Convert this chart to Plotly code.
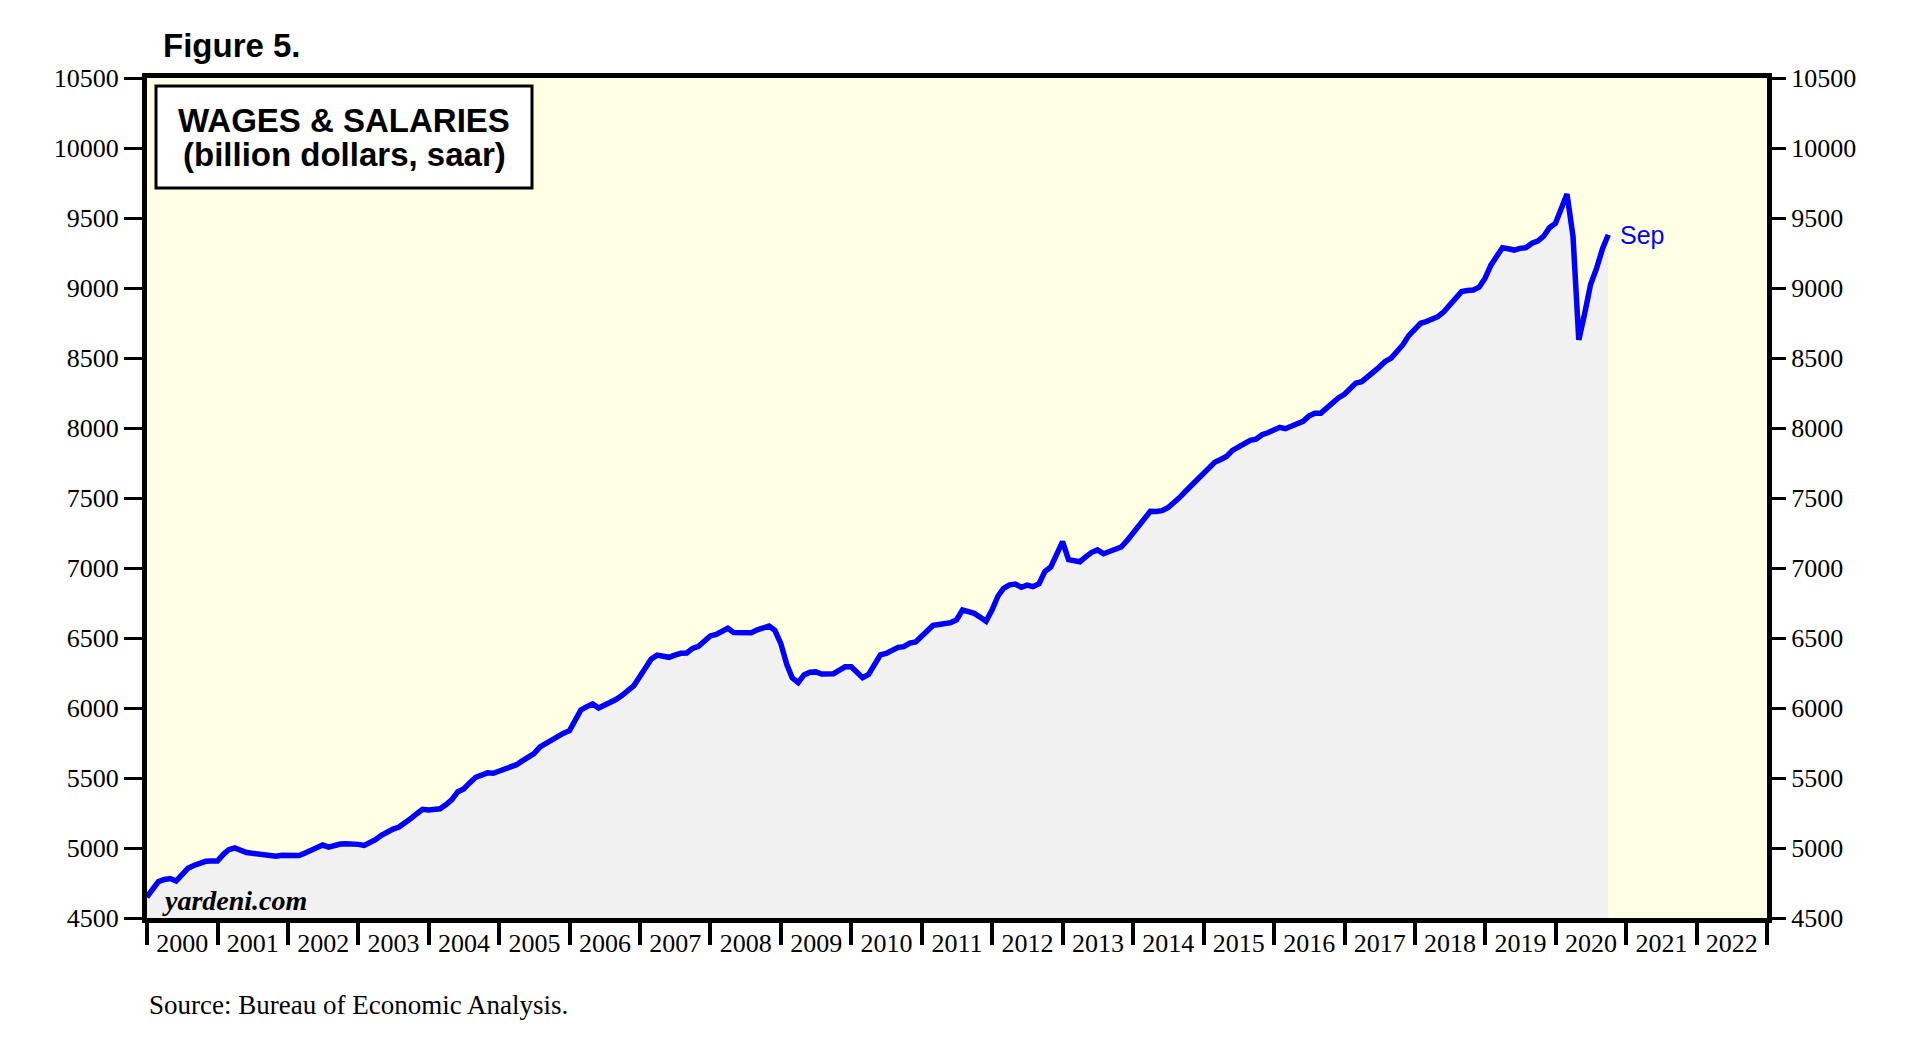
import pandas as pd
import plotly.graph_objects as go

# Monthly wages & salaries (billion dollars, saar), Dec 1999 .. Sep 2020
start_month = "1999-12-31"
wages = [
    4650,
    4712, 4760, 4775, 4782, 4764, 4810, 4855, 4875, 4893, 4905, 4907, 4907,   # 2000
    4955, 4988, 5000, 4980, 4968, 4962, 4955, 4946, 4940, 4942, 4948, 4950,   # 2001
    4946, 4946, 4965, 4983, 5005, 5021, 5006, 5020, 5028, 5031, 5033, 5026,   # 2002
    5018, 5033, 5060, 5090, 5118, 5135, 5150, 5175, 5210, 5245, 5276, 5272,   # 2003
    5272, 5280, 5310, 5345, 5402, 5422, 5465, 5505, 5520, 5537, 5534, 5550,   # 2004
    5568, 5582, 5595, 5622, 5645, 5675, 5722, 5748, 5775, 5800, 5820, 5838,   # 2005
    5920, 5986, 6010, 6029, 6000, 6018, 6043, 6062, 6090, 6122, 6160, 6225,   # 2006
    6290, 6350, 6378, 6370, 6362, 6378, 6391, 6393, 6426, 6440, 6480, 6515,   # 2007
    6525, 6545, 6569, 6540, 6538, 6538, 6538, 6558, 6575, 6586, 6555, 6460,   # 2008
    6310, 6215, 6181, 6236, 6256, 6258, 6243, 6243, 6245, 6270, 6294, 6295,   # 2009
    6255, 6217, 6240, 6315, 6380, 6390, 6408, 6433, 6438, 6463, 6472, 6510,   # 2010
    6550, 6590, 6597, 6603, 6610, 6629, 6700, 6688, 6676, 6648, 6620, 6700,   # 2011
    6800, 6855, 6880, 6885, 6862, 6878, 6867, 6888, 6975, 7008, 7100, 7188,   # 2012
    7060, 7050, 7045, 7080, 7112, 7129, 7102, 7118, 7135, 7150, 7195, 7245,   # 2013
    7300, 7350, 7405, 7404, 7410, 7430, 7465, 7505, 7548, 7590, 7632, 7672,   # 2014
    7715, 7755, 7775, 7797, 7840, 7865, 7888, 7912, 7920, 7952, 7966, 7985,   # 2015
    8005, 7995, 8015, 8035, 8048, 8085, 8105, 8106, 8140, 8185, 8215, 8240,   # 2016
    8280, 8320, 8331, 8370, 8400, 8435, 8475, 8500, 8545, 8595, 8660, 8705,   # 2017
    8748, 8760, 8775, 8795, 8830, 8875, 8925, 8974, 8982, 8986, 9006, 9070,   # 2018
    9165, 9230, 9288, 9280, 9271, 9283, 9288, 9320, 9335, 9370, 9430, 9462,   # 2019
    9560, 9671, 9369, 8629, 8820, 9025, 9140, 9280, 9380,                     # 2020
]
last_label = "Sep"
year_range = ["2000-01-01", "2023-01-01"]
y_ticks = [4500, 5000, 5500, 6000, 6500, 7000, 7500, 8000, 8500, 9000, 9500, 10000, 10500]
y_tick_labels = [str(v) for v in y_ticks]

dates = pd.date_range(start_month, periods=len(wages), freq="ME")

OFF = 8  # page body margin
W_FIG, H_FIG = 1927 - 2 * OFF, 1064 - 2 * OFF
L, R, T, B = 147 - OFF, 1767 - OFF, 78 - OFF, 918 - OFF
PW, PH = R - L, B - T


def px(x):
    return (x - OFF - L) / PW


def py(y):
    return (B - (y - OFF)) / PH


serif = "Liberation Serif"
sans = "Liberation Sans"

fig = go.Figure()
fig.add_trace(go.Scatter(
    x=dates, y=wages, mode="lines",
    line=dict(color="#0000FF", width=5.5),
    fill="tozeroy", fillcolor="#F1F1F1",
    hoverinfo="skip", showlegend=False,
))
fig.add_trace(go.Scatter(
    x=dates, y=wages, mode="lines", yaxis="y2",
    line=dict(color="rgba(0,0,0,0)", width=0),
    hoverinfo="skip", showlegend=False,
))

tick_font = dict(family=serif, size=26, color="black")

fig.update_layout(
    width=W_FIG, height=H_FIG,
    margin=dict(l=L, r=W_FIG - R, t=T, b=H_FIG - B, pad=0),
    paper_bgcolor="white",
    plot_bgcolor="#FFFFE3",
    showlegend=False,
    xaxis=dict(
        type="date", range=year_range,
        dtick="M12", tick0="2000-01-01", tickformat="%Y",
        ticklabelmode="period", ticklabelstandoff=-24,
        ticks="outside", ticklen=22, tickwidth=4, tickcolor="black",
        showline=True, linecolor="black", linewidth=5, mirror=True,
        showgrid=False, zeroline=False,
        tickfont=tick_font,
    ),
    yaxis=dict(
        range=[4500, 10500], tickvals=y_ticks, ticktext=y_tick_labels,
        ticks="outside", ticklen=18, tickwidth=2.5, tickcolor="black",
        showline=True, linecolor="black", linewidth=5, mirror=True,
        showgrid=False, zeroline=False,
        tickfont=tick_font,
    ),
    yaxis2=dict(
        range=[4500, 10500], tickvals=y_ticks, ticktext=y_tick_labels,
        overlaying="y", side="right",
        ticks="outside", ticklen=18, tickwidth=2.5, tickcolor="black",
        showline=False, showgrid=False, zeroline=False,
        tickfont=tick_font,
    ),
)

# title box
fig.add_shape(type="rect", xref="paper", yref="paper",
              x0=px(156), x1=px(532), y0=py(188), y1=py(86),
              fillcolor="white", line=dict(color="black", width=3), layer="above")
fig.add_annotation(xref="paper", yref="paper", x=px(344), y=py(120),
                   xanchor="center", yanchor="middle",
                   text="<b>WAGES & SALARIES</b>", showarrow=False,
                   font=dict(family=sans, size=33, color="black"))
fig.add_annotation(xref="paper", yref="paper", x=px(344), y=py(154),
                   xanchor="center", yanchor="middle",
                   text="<b>(billion dollars, saar)</b>", showarrow=False,
                   font=dict(family=sans, size=33, color="black"))

fig.add_annotation(xref="paper", yref="paper", x=px(161), y=py(46),
                   xanchor="left", yanchor="middle",
                   text="<b>Figure 5.</b>", showarrow=False,
                   font=dict(family=sans, size=33, color="black"))
fig.add_annotation(xref="paper", yref="paper", x=px(160), y=py(900),
                   xanchor="left", yanchor="middle",
                   text="<b><i>yardeni.com</i></b>", showarrow=False,
                   font=dict(family=serif, size=28, color="black"))
fig.add_annotation(xref="paper", yref="paper", x=px(147), y=py(1005),
                   xanchor="left", yanchor="middle",
                   text="Source: Bureau of Economic Analysis.", showarrow=False,
                   font=dict(family=serif, size=27, color="black"))
fig.add_annotation(x=dates[-1], y=wages[-1], xanchor="left", yanchor="middle", xshift=10,
                   text=last_label, showarrow=False,
                   font=dict(family=sans, size=25, color="#0000FF"))

fig.write_html("out.html")
